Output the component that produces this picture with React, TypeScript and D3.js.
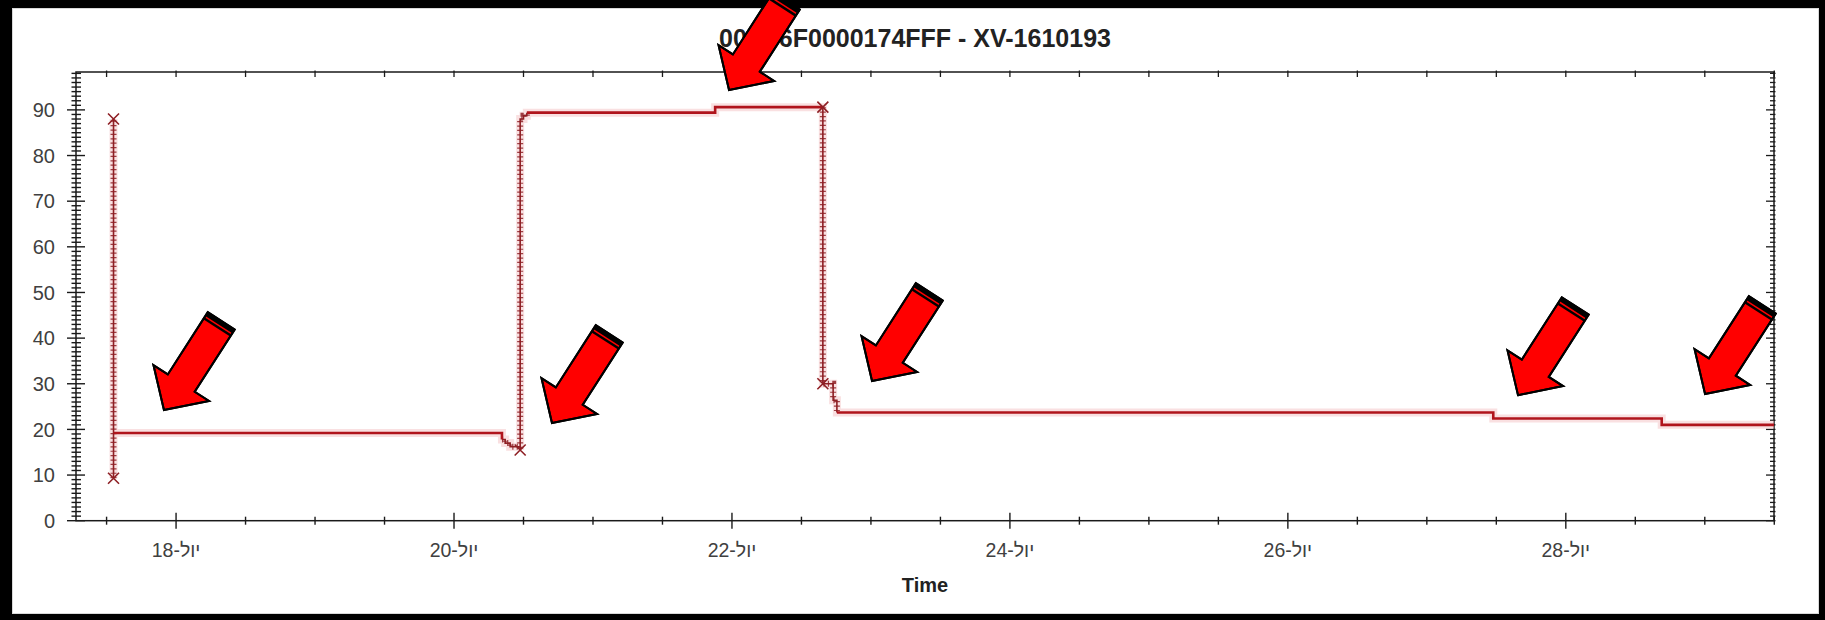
import React from 'react';
import * as d3 from 'd3';

const W = 1825;
const H = 620;

// Valve position samples: day of July (fractional) and opening %
const sampleDays = [
  17.55, 17.55, 17.55, 20.345, 20.368, 20.404, 20.476, 20.476, 20.5, 20.524,
  21.879, 22.654, 22.654, 22.728, 22.755, 27.478, 28.69, 29.498,
];
const sampleValues = [
  9.3, 88.0, 19.2, 17.8, 17.0, 16.2, 15.5, 88.0, 88.7, 89.4,
  90.6, 90.6, 30.0, 26.4, 23.7, 22.4, 21.0, 21.0,
];
// Index ranges of fast sweeps (dense samples) and of steady holds
const sweepSpans: [number, number][] = [[0, 2], [3, 9], [11, 14]];
const steadySpans: [number, number][] = [[2, 3], [9, 11], [14, 17]];
// Samples flagged with a cross symbol
const crossMarkIdx = [0, 1, 6, 11, 12];

const majorDays = [18, 20, 22, 24, 26, 28];
const dayLabels = ['18-יול', '20-יול', '22-יול', '24-יול', '26-יול', '28-יול'];
const yTickValues = [0, 10, 20, 30, 40, 50, 60, 70, 80, 90];

// Call-out arrows: tip position in chart units (day, %)
const calloutDays = [17.913, 20.705, 21.979, 23.008, 27.656, 29.002];
const calloutValues = [24.25, 21.4, 94.35, 30.6, 27.5, 27.76];

const titleText = '000D6F0000174FFF - XV-1610193';
const xTitle = 'Time';

const FONT = "'Liberation Sans', Arial, sans-serif";

export default function App() {
  const left = 76;
  const right = 1774;
  const top = 72;
  const bottom = 520.7;

  const x = d3.scaleLinear().domain([17.28, 29.498]).range([left, right]);
  const y = d3.scaleLinear().domain([0, 98.3]).range([bottom, top]);

  const stepLine = d3
    .line<number>()
    .x((i) => x(sampleDays[i]))
    .y((i) => y(sampleValues[i]))
    .curve(d3.curveStepAfter);

  const spanPath = (s: [number, number]) => stepLine(d3.range(s[0], s[1] + 1)) || '';
  const fullPath = stepLine(d3.range(sampleDays.length)) || '';

  const halfDayTicks = d3.range(17.5, 29.51, 0.5);
  const unitTicks = d3.range(0, 98.01, 1);

  const lineColor = '#b0141c';
  const sweepColor = '#8e1f24';
  const axisColor = '#1a1a1a';
  const labelColor = '#404040';

  // Block arrow in local frame, pointing along +x with the tip at the origin
  const arrowBody = 'M0,0 L-32,-33 L-32,-16 L-106,-16 L-106,16 L-32,16 L-32,33 Z';
  const arrowAngle = 122.7;

  return (
    <svg
      width={W}
      height={H}
      style={{ position: 'absolute', left: 0, top: 0, display: 'block' }}
    >
      {/* frame */}
      <rect x={0} y={0} width={W} height={H} fill="#000" />
      <rect x={12} y={8} width={1807} height={606} fill="#fff" />
      <rect x={12.5} y={8.5} width={1806} height={605} fill="none" stroke="#d8d8d8" strokeWidth={1} />

      {/* title */}
      <text
        x={915}
        y={46.5}
        textAnchor="middle"
        fontFamily={FONT}
        fontWeight="bold"
        fontSize={25}
        fill="#222"
      >
        {titleText}
      </text>

      {/* plot box */}
      <rect
        x={left}
        y={top}
        width={right - left}
        height={bottom - top}
        fill="#fff"
        stroke={axisColor}
        strokeWidth={1.5}
      />

      {/* left axis ticks */}
      {unitTicks.map((v) => {
        const major = v % 10 === 0;
        return (
          <line
            key={'yl' + v}
            x1={major ? left - 9 : left - 4.5}
            x2={major ? left + 9 : left + 5}
            y1={y(v)}
            y2={y(v)}
            stroke={axisColor}
            strokeWidth={1.4}
          />
        );
      })}
      {/* right axis ticks */}
      {unitTicks.map((v) => {
        const major = v % 10 === 0;
        return (
          <line
            key={'yr' + v}
            x1={major ? right - 8 : right - 4}
            x2={right + 1.5}
            y1={y(v)}
            y2={y(v)}
            stroke={axisColor}
            strokeWidth={1.3}
          />
        );
      })}
      {yTickValues.map((v) => (
        <text
          key={'ylab' + v}
          x={55}
          y={y(v)}
          dy="0.36em"
          textAnchor="end"
          fontFamily={FONT}
          fontSize={20}
          fill={labelColor}
        >
          {v}
        </text>
      ))}

      {/* bottom and top axis ticks */}
      {halfDayTicks.map((d) => {
        const major = majorDays.includes(d);
        return (
          <g key={'xt' + d}>
            <line
              x1={x(d)}
              x2={x(d)}
              y1={major ? bottom - 8 : bottom - 4}
              y2={major ? bottom + 8 : bottom + 4}
              stroke={axisColor}
              strokeWidth={1.4}
            />
            <line
              x1={x(d)}
              x2={x(d)}
              y1={top - 1.5}
              y2={top + 5}
              stroke={axisColor}
              strokeWidth={1.3}
            />
          </g>
        );
      })}
      {majorDays.map((d, i) => (
        <text
          key={'xlab' + d}
          x={x(d)}
          y={557}
          textAnchor="middle"
          fontFamily={FONT}
          fontSize={19.5}
          fill={labelColor}
        >
          {dayLabels[i]}
        </text>
      ))}
      <text
        x={925}
        y={592}
        textAnchor="middle"
        fontFamily={FONT}
        fontWeight="bold"
        fontSize={20}
        fill="#222"
      >
        {xTitle}
      </text>

      {/* series */}
      <path d={fullPath} fill="none" stroke="#f4c6c8" strokeOpacity={0.55} strokeWidth={8} />
      {sweepSpans.map((s, i) => (
        <g key={'sw' + i}>
          <path d={spanPath(s)} fill="none" stroke={sweepColor} strokeWidth={1.6} />
          <path
            d={spanPath(s)}
            fill="none"
            stroke={sweepColor}
            strokeWidth={6}
            strokeDasharray="1.2 3.2"
            strokeOpacity={0.85}
          />
        </g>
      ))}
      {steadySpans.map((s, i) => (
        <path
          key={'st' + i}
          d={spanPath(s)}
          fill="none"
          stroke={lineColor}
          strokeWidth={2.6}
        />
      ))}
      {crossMarkIdx.map((i) => (
        <path
          key={'cx' + i}
          transform={`translate(${x(sampleDays[i])},${y(sampleValues[i])})`}
          d="M-5.5,-5.5L5.5,5.5M-5.5,5.5L5.5,-5.5"
          stroke={sweepColor}
          strokeWidth={1.6}
          fill="none"
        />
      ))}

      {/* call-out arrows */}
      {calloutDays.map((d, i) => (
        <g
          key={'ar' + i}
          transform={`translate(${x(d)},${y(calloutValues[i])}) rotate(${arrowAngle})`}
        >
          <path d={arrowBody} fill="#ff0000" stroke="#000" strokeWidth={2} strokeLinejoin="miter" />
          <rect x={-106} y={-16} width={4.5} height={32} fill="#000" />
          <rect x={-100} y={-16} width={2.5} height={32} fill="#000" />
          <path d={arrowBody} fill="none" stroke="#000" strokeWidth={2} strokeLinejoin="miter" />
        </g>
      ))}
    </svg>
  );
}
